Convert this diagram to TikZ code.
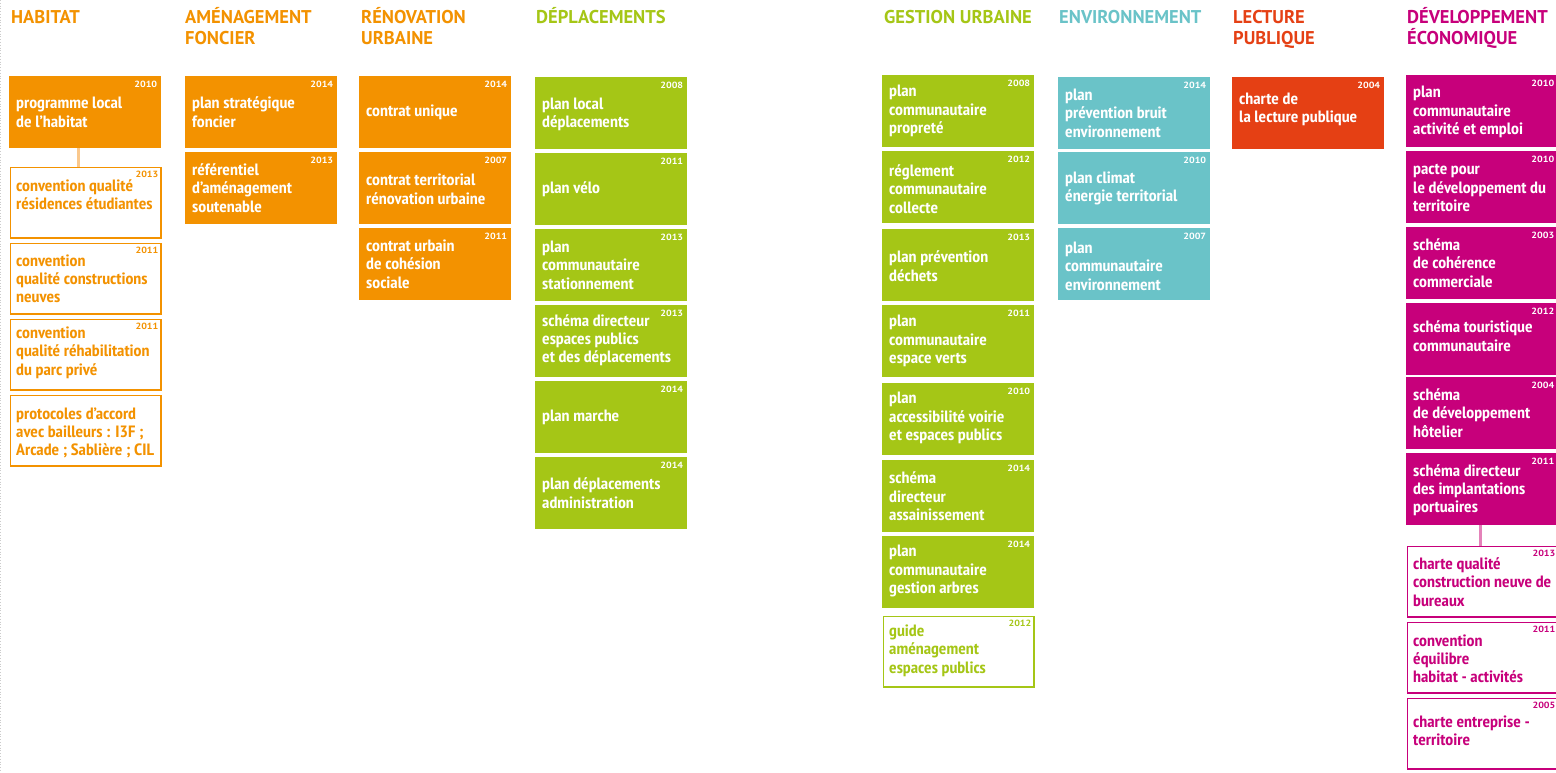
\documentclass[tikz,border=0pt]{standalone}
\usepackage{fontspec}
\IfFontExistsTF{PT Sans Narrow Bold}{%
  \newfontfamily\bodyf{PT Sans Narrow Bold}[FakeStretch=1.08]%
}{%
  \newfontfamily\bodyf{PT Sans Bold}[FakeStretch=0.88]%
}
\newfontfamily\headf{PT Sans}
\newfontfamily\yearf{PT Sans Bold}[FakeStretch=1.12]
\definecolor{cOr}{RGB}{243,146,0}
\definecolor{cOrL}{RGB}{250,200,140}
\definecolor{cGr}{RGB}{165,198,22}
\definecolor{cCy}{RGB}{106,195,200}
\definecolor{cRd}{RGB}{229,64,20}
\definecolor{cMg}{RGB}{199,0,123}
\definecolor{cMgL}{RGB}{228,130,185}
\tikzset{
  fbx/.style={fill=#1, draw=none, minimum width=152pt, minimum height=72pt, inner sep=0pt, anchor=north west},
  obx/.style={draw=#1, fill=white, line width=1.6pt, minimum width=150.4pt, minimum height=70.4pt, inner sep=0pt, anchor=north west},
  txt/.style={text=#1, font={\fontsize{16.4}{18.4}\selectfont\bodyf}, align=left, inner sep=0pt, anchor=west},
  yr/.style={text=#1, font={\fontsize{9}{10}\selectfont\yearf}, inner sep=0pt, anchor=north east},
  hd/.style={text=#1, font={\fontsize{18.5}{21}\selectfont\headf\bfseries}, inner sep=0pt, anchor=base west},
  conn/.style={draw=#1, line width=3pt},
}
% filled box: name, x, top, colour, year, text, yshift of text
\newcommand\FB[7]{%
  \node[fbx=#4] (#1) at (#2,#3) {};
  \node[yr=white] (#1y) at ([shift={(-4pt,-4.5pt)}]#1.north east) {#5};
  \node[txt=white] (#1t) at ([shift={(7pt,#7)}]#1.west) {#6};
}
% outlined box
\newcommand\OB[7]{%
  \node[obx=#4] (#1) at (#2+0.8,#3+0.8) {};
  \node[yr=#4] (#1y) at ([shift={(-3.2pt,-3.7pt)}]#1.north east) {#5};
  \node[txt=#4] (#1t) at ([shift={(6.2pt,#7)}]#1.west) {#6};
}
\newcommand\HD[4]{%
  \node[hd=#4] (#1) at (#2,24) {\vtop{#3}};
}
\begin{document}
\begin{tikzpicture}[x=1pt,y=-1pt]
\useasboundingbox (0,0) rectangle (1556,773);
\fill[white] (0,0) rectangle (1556,773);
\draw[gray!40, dotted, line width=0.8pt] (0.5,0) -- (0.5,773);

% headers
\HD{hHab}{11}{\hbox{HABITAT}}{cOr}
\HD{hAm}{185}{\hbox{AMÉNAGEMENT}\hbox{FONCIER}}{cOr}
\HD{hRen}{361}{\hbox{RÉNOVATION}\hbox{URBAINE}}{cOr}
\HD{hDep}{536}{\hbox{DÉPLACEMENTS}}{cGr}
\HD{hGes}{884}{\hbox{GESTION URBAINE}}{cGr}
\HD{hEnv}{1059}{\hbox{ENVIRONNEMENT}}{cCy}
\HD{hLec}{1233}{\hbox{LECTURE}\hbox{PUBLIQUE}}{cRd}
\HD{hDev}{1407}{\hbox{DÉVELOPPEMENT}\hbox{ÉCONOMIQUE}}{cMg}

% habitat
\FB{hab1}{9}{76}{cOr}{2010}{programme local\\de l’habitat}{0pt}
\OB{hab2}{9}{166}{cOr}{2013}{convention qualité\\résidences étudiantes}{8pt}
\OB{hab3}{9}{242}{cOr}{2011}{convention\\qualité constructions\\neuves}{0pt}
\OB{hab4}{9}{318}{cOr}{2011}{convention\\qualité réhabilitation\\du parc privé}{2pt}
\OB{hab5}{9}{394}{cOr}{}{protocoles d’accord\\avec bailleurs : I3F ;\\Arcade ; Sablière ; CIL}{-2pt}
\draw[conn=cOrL] (hab1.south -| 78.5,0) -- (hab2.north -| 78.5,0);

% aménagement
\FB{am1}{185}{76}{cOr}{2014}{plan stratégique\\foncier}{0pt}
\FB{am2}{185}{152}{cOr}{2013}{référentiel\\d’aménagement\\soutenable}{0pt}

% rénovation
\FB{ren1}{359}{76}{cOr}{2014}{contrat unique}{0pt}
\FB{ren2}{359}{152}{cOr}{2007}{contrat territorial\\rénovation urbaine}{-1pt}
\FB{ren3}{359}{228}{cOr}{2011}{contrat urbain\\de cohésion\\sociale}{0pt}

% déplacements
\FB{dep1}{535}{77}{cGr}{2008}{plan local\\déplacements}{-1pt}
\FB{dep2}{535}{153}{cGr}{2011}{plan vélo}{0pt}
\FB{dep3}{535}{229}{cGr}{2013}{plan\\communautaire\\stationnement}{0pt}
\FB{dep4}{535}{305}{cGr}{2013}{schéma directeur\\espaces publics\\et des déplacements}{1pt}
\FB{dep5}{535}{381}{cGr}{2014}{plan marche}{0pt}
\FB{dep6}{535}{457}{cGr}{2014}{plan déplacements\\administration}{0pt}

% gestion urbaine
\FB{ges1}{882}{75}{cGr}{2008}{plan\\communautaire\\propreté}{0pt}
\FB{ges2}{882}{151}{cGr}{2012}{réglement\\communautaire\\collecte}{-2pt}
\FB{ges3}{882}{229}{cGr}{2013}{plan prévention\\déchets}{-1pt}
\FB{ges4}{882}{305}{cGr}{2011}{plan\\communautaire\\espace verts}{0pt}
\FB{ges5}{882}{383}{cGr}{2010}{plan\\accessibilité voirie\\et espaces publics}{1pt}
\FB{ges6}{882}{460}{cGr}{2014}{schéma\\directeur\\assainissement}{0pt}
\FB{ges7}{882}{536}{cGr}{2014}{plan\\communautaire\\gestion arbres}{1pt}
\OB{ges8}{882}{615}{cGr}{2012}{guide\\aménagement\\espaces publics}{1pt}

% environnement
\FB{env1}{1058}{77}{cCy}{2014}{plan\\prévention bruit\\environnement}{0pt}
\FB{env2}{1058}{152}{cCy}{2010}{plan climat\\énergie territorial}{0pt}
\FB{env3}{1058}{228}{cCy}{2007}{plan\\communautaire\\environnement}{-2pt}

% lecture publique
\FB{lec1}{1232}{77}{cRd}{2004}{charte de\\la lecture publique}{4pt}

% développement économique
\FB{dev1}{1406}{75}{cMg}{2010}{plan\\communautaire\\activité et emploi}{-1pt}
\FB{dev2}{1406}{151}{cMg}{2010}{pacte pour\\le développement du\\territoire}{-1pt}
\FB{dev3}{1406}{227}{cMg}{2003}{schéma\\de cohérence\\commerciale}{0pt}
\FB{dev4}{1406}{303}{cMg}{2012}{schéma touristique\\communautaire}{3pt}
\FB{dev5}{1406}{377}{cMg}{2004}{schéma\\de développement\\hôtelier}{0pt}
\FB{dev6}{1406}{453}{cMg}{2011}{schéma directeur\\des implantations\\portuaires}{-1pt}
\OB{dev7}{1406}{545}{cMg}{2013}{charte qualité\\construction neuve de\\bureaux}{0pt}
\OB{dev8}{1406}{621}{cMg}{2011}{convention\\équilibre\\habitat - activités}{-1pt}
\OB{dev9}{1406}{697}{cMg}{2005}{charte entreprise -\\territoire}{3pt}
\draw[conn=cMgL] (dev6.south -| 1480.5,0) -- (dev7.north -| 1480.5,0);
\end{tikzpicture}
\end{document}
